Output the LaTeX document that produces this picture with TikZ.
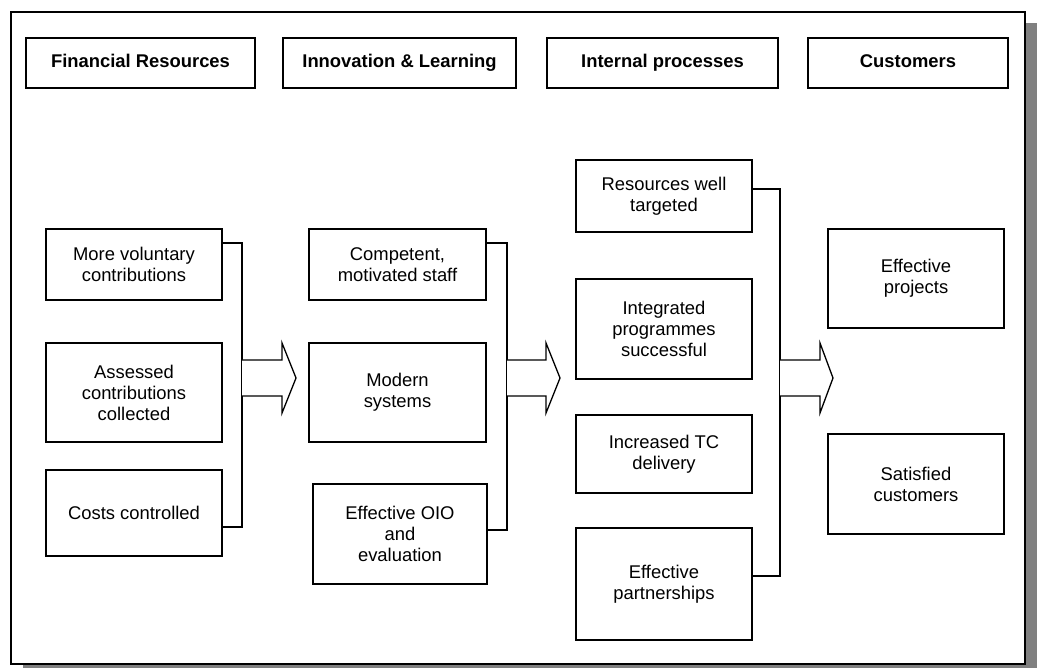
\documentclass[tikz,border=0pt]{standalone}
\usepackage{fontspec}
\setmainfont{Liberation Sans}
\begin{document}
\begin{tikzpicture}[x=1pt,y=-1pt,
  box/.style={draw=black,line width=1.6pt,fill=white,align=center,inner sep=2pt,
    font=\fontsize{18.4}{21}\selectfont},
  head/.style={box,minimum height=50pt,text height=13.5pt,text depth=4pt,
    font=\fontsize{18.4}{21}\selectfont\bfseries},
  link/.style={draw=black,line width=1.3pt},
  blockarrow/.style={draw=black,line width=1.3pt,fill=white,line join=miter}]
\useasboundingbox (0,0) rectangle (1037,668);
% frame with shadow
\fill[black!50] (23,23) rectangle (1037,668);
\draw[line width=2.8pt,fill=white] (11,12) rectangle (1025,664);
% headers
\node[head,minimum width=229pt] (fr) at (140.5,63) {Financial Resources};
\node[head,minimum width=233pt] (il) at (399.5,63) {Innovation \& Learning};
\node[head,minimum width=231pt] (ip) at (662.5,63) {Internal processes};
\node[head,minimum width=200pt] (cu) at (908,63) {Customers};
% left column
\node[box,minimum width=176pt,minimum height=71pt] (mv) at (134,264.5) {More voluntary\\contributions};
\node[box,minimum width=176pt,minimum height=99pt] (ac) at (134,392.5) {Assessed\\contributions\\collected};
\node[box,minimum width=176pt,minimum height=86pt] (cc) at (134,513) {Costs controlled};
% middle column
\node[box,minimum width=177pt,minimum height=71pt] (cm) at (397.5,264.5) {Competent,\\motivated staff};
\node[box,minimum width=177pt,minimum height=99pt] (ms) at (397.5,392.5) {Modern\\systems};
\node[box,minimum width=174pt,minimum height=100pt] (oio) at (400,534) {Effective OIO\\and\\evaluation};
% internal processes
\node[box,minimum width=176pt,minimum height=72pt] (rw) at (664,196) {Resources well\\targeted};
\node[box,minimum width=176pt,minimum height=100pt] (igp) at (664,329) {Integrated\\programmes\\successful};
\node[box,minimum width=176pt,minimum height=78pt] (tc) at (664,454) {Increased TC\\delivery};
\node[box,minimum width=176pt,minimum height=112pt] (ep) at (664,584) {Effective\\partnerships};
% customers
\node[box,minimum width=176pt,minimum height=99pt] (proj) at (916,278.5) {Effective\\projects};
\node[box,minimum width=176pt,minimum height=100pt] (sat) at (916,484) {Satisfied\\customers};
% brackets
\coordinate (lb) at (242,378);
\coordinate (mb) at (507,378);
\coordinate (rb) at (780,378);
\draw[link] (mv.east |- 0,243) -| (lb) |- (cc.east |- 0,527);
\draw[link] (cm.east |- 0,243) -| (mb) |- (oio.east |- 0,530);
\draw[link] (rw.east |- 0,189) -| (rb) |- (ep.east |- 0,576);
% block arrows
\draw[blockarrow] (lb |- 0,360) -- (282,360) -- (282,343) -- (296,378) -- (282,413) -- (282,396) -- (lb |- 0,396);
\draw[blockarrow] (mb |- 0,360) -- (546,360) -- (546,343) -- (560,378) -- (546,413) -- (546,396) -- (mb |- 0,396);
\draw[blockarrow] (rb |- 0,360) -- (820,360) -- (820,343) -- (833,378) -- (820,413) -- (820,396) -- (rb |- 0,396);
\end{tikzpicture}
\end{document}
